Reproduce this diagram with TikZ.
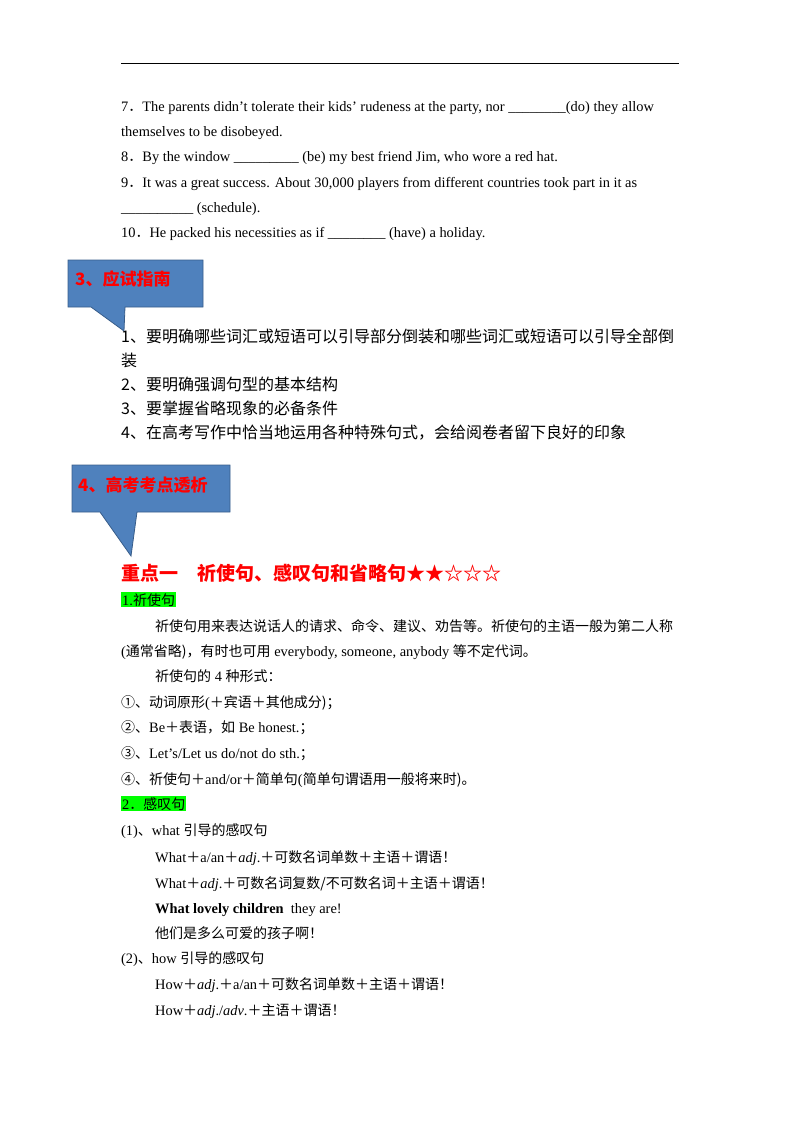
\documentclass[tikz,border=0pt]{standalone}
\usepackage{fontspec}
\setmainfont{Liberation Serif}
\newfontfamily\cjk{Noto Sans CJK SC}
\newcommand\zh[1]{{\fontsize{14}{16}\cjk #1}}
\definecolor{cfill}{HTML}{4F81BD}
\definecolor{cdraw}{HTML}{385D8A}
\definecolor{hl}{HTML}{00FF00}
\begin{document}
\begin{tikzpicture}[x=1pt,y=-1pt,
  t/.style={anchor=base west,inner sep=0pt,font=\fontsize{14.4}{16}\selectfont},
  zht/.style={anchor=base west,inner sep=0pt,font=\fontsize{16}{18}\cjk},
  ct/.style={anchor=base west,inner sep=0pt,text=red,font=\fontsize{17}{19}\bfseries\cjk},
  hlt/.style={anchor=base west,inner sep=1pt,fill=hl,font=\fontsize{14.4}{16}\selectfont},
  callout/.style={fill=cfill,draw=cdraw,line width=0.8pt}]
\useasboundingbox (0,0) rectangle (800,1132);
\draw[line width=0.8pt] (121,63) -- (679,63);
\node[t] (l1) at (121,111) {7\zh{．}The parents didn’t tolerate their kids’ rudeness at the party, nor \_\_\_\_\_\_\_\_(do) they allow};
\node[t] (l2) at (121,136) {themselves to be disobeyed.};
\node[t] (l3) at (121,161) {8\zh{．}By the window \_\_\_\_\_\_\_\_\_ (be) my best friend Jim, who wore a red hat.};
\node[t] (l4) at (121,187) {9\zh{．}It was a great success. About 30,000 players from different countries took part in it as};
\node[t] (l5) at (121,212) {\_\_\_\_\_\_\_\_\_\_ (schedule).};
\node[t] (l6) at (121,237) {10\zh{．}He packed his necessities as if \_\_\_\_\_\_\_\_ (have) a holiday.};
\draw[callout] (68,260) -- (203,260) -- (203,307) -- (125,307) -- (124,331) -- (91,307) -- (68,307) -- cycle;
\node[ct] (c3) at (75,285) {3、应试指南};
\node[zht] (g1) at (121,342) {1、要明确哪些词汇或短语可以引导部分倒装和哪些词汇或短语可以引导全部倒};
\node[zht] (g1b) at (121,366) {装};
\node[zht] (g2) at (121,390) {2、要明确强调句型的基本结构};
\node[zht] (g3) at (121,414) {3、要掌握省略现象的必备条件};
\node[zht] (g4) at (121,438) {4、在高考写作中恰当地运用各种特殊句式，会给阅卷者留下良好的印象};
\draw[callout] (72,465) -- (230,465) -- (230,512) -- (137,512) -- (131,556) -- (100,512) -- (72,512) -- cycle;
\node[ct] (c4) at (78,491) {4、高考考点透析};
\node[anchor=base west,inner sep=0pt,text=red,font=\fontsize{19}{21}\bfseries\cjk] (h1) at (121,580) {重点一　祈使句、感叹句和省略句★★☆☆☆};
\node[hlt] (s1) at (121,605) {1.\zh{祈使句}};
\node[t] (p1) at (155,631) {\zh{祈使句用来表达说话人的请求、命令、建议、劝告等。祈使句的主语一般为第二人称}};
\node[t] (p2) at (121,656) {(\zh{通常省略)，有时也可用} everybody, someone, anybody \zh{等不定代词。}};
\node[t] (p3) at (155,681) {\zh{祈使句的} 4 \zh{种形式：}};
\node[t] (p4) at (121,707) {\zh{①、动词原形}(\zh{＋宾语＋其他成分)；}};
\node[t] (p5) at (121,732) {\zh{②、}Be\zh{＋表语，如} Be honest.\zh{；}};
\node[t] (p6) at (121,758) {\zh{③、}Let's/Let us do/not do sth.\zh{；}};
\node[t] (p7) at (121,784) {\zh{④、祈使句＋}and/or\zh{＋简单句}(\zh{简单句谓语用一般将来时)。}};
\node[hlt] (s2) at (121,809) {2\zh{．感叹句}};
\node[t] (q1) at (121,835) {(1)\zh{、}what \zh{引导的感叹句}};
\node[t] (q2) at (155,862) {What\zh{＋}a/an\zh{＋}\textit{adj}.\zh{＋可数名词单数＋主语＋谓语！}};
\node[t] (q3) at (155,888) {What\zh{＋}\textit{adj}.\zh{＋可数名词复数/不可数名词＋主语＋谓语！}};
\node[t] (q4) at (155,913) {\textbf{What lovely children}\ \ they are!};
\node[t] (q5) at (155,938) {\zh{他们是多么可爱的孩子啊！}};
\node[t] (q6) at (121,963) {(2)\zh{、}how \zh{引导的感叹句}};
\node[t] (q7) at (155,989) {How\zh{＋}\textit{adj}.\zh{＋}a/an\zh{＋可数名词单数＋主语＋谓语！}};
\node[t] (q8) at (155,1015) {How\zh{＋}\textit{adj}./\textit{adv}.\zh{＋主语＋谓语！}};
\end{tikzpicture}
\end{document}
